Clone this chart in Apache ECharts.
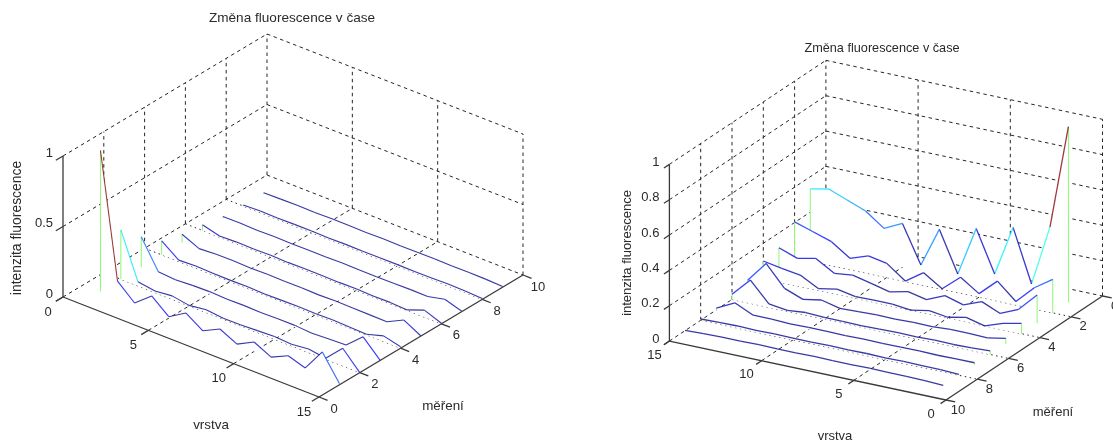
<!DOCTYPE html>
<html><head><meta charset="utf-8">
<style>html,body{margin:0;padding:0;background:#fff}#c{width:1113px;height:441px}</style>
<script src="https://cdn.jsdelivr.net/npm/echarts@6/dist/echarts.min.js"></script>
</head><body><div id="c"></div>
<script>
// vrstva = 1..15, měření = 1..9
const vrstvy = [1,2,3,4,5,6,7,8,9,10,11,12,13,14,15];
const mereni = [1,2,3,4,5,6,7,8,9];

const leftM1 = [1,.12,.013,.11,.01,.084,.005,.065,.005,.067,.007,.064,.025,.186,.01];
const leftM2 = [.35,.03,.012,.024,.004,.02,.007,.008,.014,.02,.012,.025,.007,.125,0];
const leftM3 = [.215,.014,.005,.012,.015,.01,.012,.008,.012,.012,.003,.01,.014,.12,0];
const leftM4 = [.1,.01,.016,.012,.01,.012,.008,.01,.012,.01,.012,.008,.004,.04,.01];
const leftM5 = [.06,.005,.012,.014,.01,.012,.01,.012,.008,.012,.01,.008,.007,.066,0];
const leftM6 = [.04,.008,.012,.01,.014,.01,.012,.012,.01,.012,.008,.01,.004,.05,.004];
const leftM7 = [.012,.014,.01,.012,.01,.012,.01,.014,.012,.01,.012,.014,.012,.04,.002];
const leftM8 = [.008,.012,.01,.012,.012,.01,.012,.01,.012,.012,.01,.012,.014,.012,.006];
const leftM9 = [.008,.01,.012,.01,.012,.012,.01,.012,.01,.012,.012,.01,.012,.01,.005];
const leftSeries = [leftM1,leftM2,leftM3,leftM4,leftM5,leftM6,leftM7,leftM8,leftM9];

const rightM1 = [.995,.404,.06,.358,.072,.308,.028,.258,.034,.247,.197,.273,.313,.353,.331];
const rightM2 = [.19,.12,.02,.113,.02,.09,.003,.072,.002,.08,.1,.064,.136,.17,.204];
const rightM3 = [.16,.057,.011,.056,.015,.045,0,.023,0,.026,.05,.038,.1,.078,.116];
const rightM4 = [.058,.036,0,.026,.004,.019,0,.012,.012,.01,.03,.01,.065,.08,.1];
const rightM5 = [.032,.013,.016,.016,.01,.012,.008,.01,.006,.002,.027,.008,.048,.167,.05];
const rightM6 = [.02,.015,.012,.014,.01,.012,.01,.008,.01,.01,.015,.005,.02,.132,.03];
const rightM7 = [.012,.012,.01,.012,.012,.01,.012,.01,.012,.012,.01,.014,.014,.062,.01];
const rightM8 = [.005,.01,.01,.012,.01,.012,.01,.012,.01,.01,.012,.01,.012,.01,.007];
const rightM9 = [.002,.006,.008,.008,.01,.008,.008,.01,.008,.008,.01,.008,.008,.006,.002];
const rightSeries = [rightM1,rightM2,rightM3,rightM4,rightM5,rightM6,rightM7,rightM8,rightM9];

const leftVTicks = [0,5,10,15], leftMTicks = [0,2,4,6,8,10], leftZTicks = [0,.5,1];
const rightVTicks = [0,5,10,15], rightMTicks = [0,2,4,6,8,10], rightZTicks = [0,.2,.4,.6,.8,1];

const titleText = 'Změna fluorescence v čase', zName = 'intenzita fluorescence', vName = 'vrstva', mName = 'měření';
const FONT = '"Liberation Sans", Arial, sans-serif';
const TEXT = '#2a2a2a', GREEN = '#8cf874';

// Oblique camera of each panel, in the units of its hidden value axes.
const cams = [
  {box:[63,34,462,363], org:[0,100], dv:[256/15,-100/15], dm:[20.4,12.2], dz:141,
   wallV:0, wallM:10, lw:1.1, tickFont:13,
   vOff:[-15,15], mOff:[15,12], zOff:[-10,-3],
   order:[8,7,6,5,4,3,2,1,0],
   vTicks:leftVTicks, mTicks:leftMTicks, zTicks:leftZTicks, series:leftSeries},
  {box:[669,62,434,338], org:[277+156.5,104], dv:[-18.44,3.93], dm:[-15.65,-10.4], dz:176.7,
   wallV:15, wallM:0, lw:1.3, tickFont:13,
   vOff:[-15,14], mOff:[12,10], zOff:[-10,-2],
   order:[0,1,2,3,4,5,6,7,8],
   vTicks:rightVTicks, mTicks:rightMTicks, zTicks:rightZTicks, series:rightSeries}
];

function proj(c, v, m, z){
  return [c.org[0] + c.dv[0]*v + c.dm[0]*m, c.org[1] + c.dv[1]*v + c.dm[1]*m + c.dz*z];
}
function jet(t){
  const s = Math.max(0, Math.min(1, t));
  const ch = x => Math.round(255*Math.max(0, Math.min(1, 1.5 - Math.abs(4*s - x))));
  return 'rgb('+ch(3)+','+ch(2)+','+ch(1)+')';
}
const seg = (a,b,style) => ({type:'line', shape:{x1:a[0],y1:a[1],x2:b[0],y2:b[1]}, style:Object.assign({fill:null},style), silent:true});
const txt = (p,s,size,o={}) => ({type:'text', x:p[0], y:p[1],
  style:{text:s, fill:TEXT, font:size+'px '+FONT, align:o.align||'center', verticalAlign:'middle'}, silent:true});

function frameItem(c){
  return function(params, api){
    const P = (v,m,z) => api.coord(proj(c,v,m,z));
    const kids = [];
    const dash = {stroke:'#262626', lineWidth:1, lineDash:[3.5,3.5]};
    const dots = {stroke:'#262626', lineWidth:1, lineDash:[1.5,3.5]};
    const wv = c.wallV, wm = c.wallM, ov = 15 - wv, om = 10 - wm;
    c.zTicks.forEach(z=>{
      kids.push(seg(P(wv,om,z),P(wv,wm,z),dash));
      kids.push(seg(P(wv,wm,z),P(ov,wm,z),dash));
    });
    c.mTicks.forEach(m=>{ if(m!==om) kids.push(seg(P(wv,m,0),P(wv,m,1),dash)); });
    c.vTicks.forEach(v=>{ if(v!==wv) kids.push(seg(P(v,wm,0),P(v,wm,1),dash)); });
    c.vTicks.forEach(v=>{ if(v!==wv && v!==ov) kids.push(seg(P(v,om,0),P(v,wm,0),dash)); });
    c.mTicks.forEach(m=>{ if(m!==wm && m!==om) kids.push(seg(P(wv,m,0),P(ov,m,0),dots)); });
    return {type:'group', children:kids};
  };
}
function axesItem(c){
  return function(params, api){
    const P = (v,m,z) => api.coord(proj(c,v,m,z));
    const kids = [];
    const axis = {stroke:'#3a3a3a', lineWidth:1.3};
    const wv = c.wallV, wm = c.wallM, ov = 15 - wv, om = 10 - wm;
    kids.push(seg(P(wv,om,0),P(wv,om,1),axis));
    kids.push(seg(P(wv,om,0),P(ov,om,0),axis));
    kids.push(seg(P(ov,om,0),P(ov,wm,0),axis));
    const mOut = om > 5 ? .35 : -.35;
    c.zTicks.forEach(z=>{
      const a = P(wv,om,z);
      kids.push(seg(a,P(wv,om+mOut,z),axis));
      kids.push(txt([a[0]+c.zOff[0],a[1]+c.zOff[1]],String(z),c.tickFont,{align:'right'}));
    });
    c.vTicks.forEach(v=>{
      const a = P(v,om,0);
      kids.push(seg(a,P(v,om+mOut,0),axis));
      kids.push(txt([a[0]+c.vOff[0],a[1]+c.vOff[1]],String(v),c.tickFont));
    });
    const vOut = ov > 5 ? .5 : -.5;
    c.mTicks.forEach(m=>{
      const a = P(ov,m,0);
      kids.push(seg(a,P(ov+vOut,m,0),axis));
      kids.push(txt([a[0]+c.mOff[0],a[1]+c.mOff[1]],String(m),c.tickFont));
    });
    return {type:'group', children:kids};
  };
}
function curtainItem(c, idx){
  const vals = c.series[idx], m = mereni[idx];
  return function(params, api){
    const P = (v,z) => api.coord(proj(c,v,m,z));
    const pts = vrstvy.map((v,i)=>P(v,vals[i]));
    const a0 = P(vrstvy[0],0), a1 = P(vrstvy[14],0);
    const kids = [{type:'polygon', shape:{points:[a0].concat(pts,[a1])}, style:{fill:'#fff',stroke:null}, silent:true}];
    kids.push(seg(a0,pts[0],{stroke:GREEN,lineWidth:1}));
    kids.push(seg(a1,pts[14],{stroke:GREEN,lineWidth:1}));
    for(let i=0;i<14;i++) kids.push(seg(pts[i],pts[i+1],{stroke:jet(vals[i]),lineWidth:c.lw,opacity:.78}));
    return {type:'group', children:kids};
  };
}

const grids=[], xAxes=[], yAxes=[], series=[];
cams.forEach((c,gi)=>{
  grids.push({left:c.box[0], top:c.box[1], width:c.box[2], height:c.box[3]});
  xAxes.push({type:'value', gridIndex:gi, show:false, min:0, max:c.box[2]});
  yAxes.push({type:'value', gridIndex:gi, show:false, min:0, max:c.box[3]});
  const base = {type:'custom', coordinateSystem:'cartesian2d', xAxisIndex:gi, yAxisIndex:gi, silent:true, animation:false, clip:false, data:[[0,0]]};
  series.push(Object.assign({},base,{name:'grid'+gi, renderItem:frameItem(c), z:1}));
  c.order.forEach((idx,k)=>series.push(Object.assign({},base,{name:'m'+mereni[idx], renderItem:curtainItem(c,idx), z:2+k})));
  series.push(Object.assign({},base,{name:'axes'+gi, renderItem:axesItem(c), z:20}));
});
const tStyle = s => ({fontFamily:FONT, fontSize:s, fontWeight:'normal', color:TEXT});
const label = (x,y,text,size,rot) => ({type:'text', x, y, rotation:rot||0, style:{text, fill:TEXT, font:size+'px '+FONT, align:'center', verticalAlign:'middle'}});
const chart = echarts.init(document.getElementById('c'), null, {renderer:'canvas'});
chart.setOption({
  animation:false, backgroundColor:'#fff',
  title:[
    {text:titleText, left:292, top:18, textAlign:'center', textVerticalAlign:'middle', textStyle:tStyle(13.6), padding:0},
    {text:titleText, left:882, top:48, textAlign:'center', textVerticalAlign:'middle', textStyle:tStyle(12.7), padding:0}
  ],
  grid:grids, xAxis:xAxes, yAxis:yAxes, series:series,
  graphic:[
    label(17,228,zName,13.9,Math.PI/2), label(211,425,vName,13.4), label(443,406,mName,13.4),
    label(627,253,zName,13,Math.PI/2), label(835,436,vName,13), label(1053,412,mName,13)
  ]
});
</script></body></html>
